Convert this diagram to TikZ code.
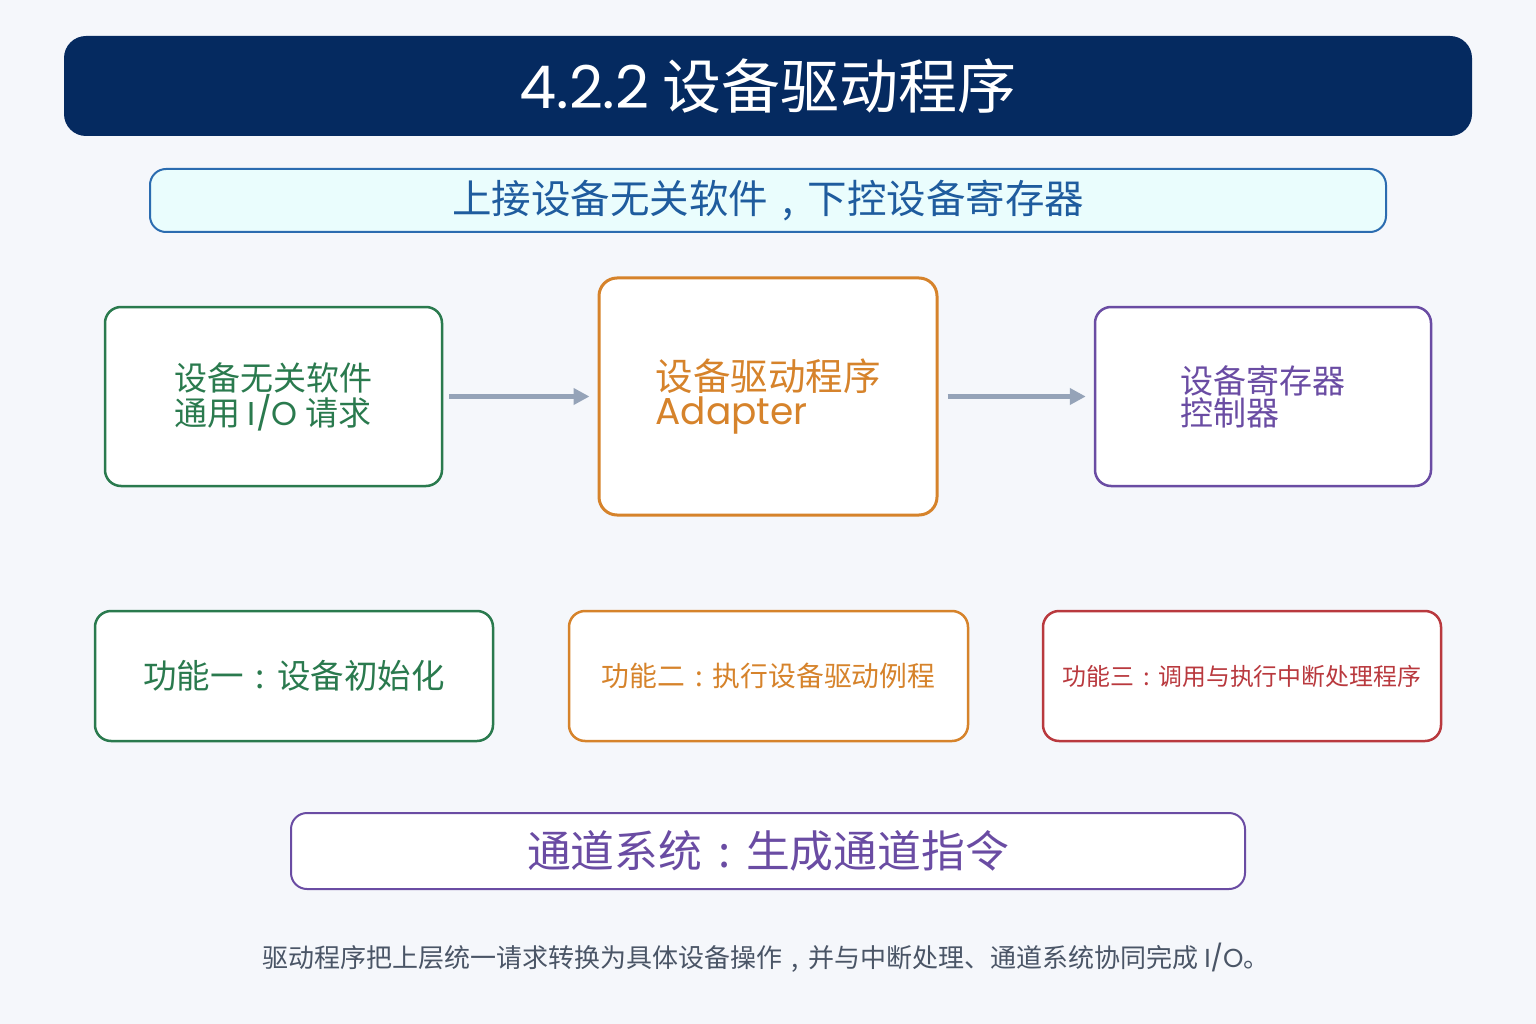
\documentclass[tikz,border=0pt]{standalone}
\usepackage{fontspec}
\setmainfont{Noto Sans CJK SC}
\newfontfamily\lat{Poppins}
\usetikzlibrary{arrows.meta}
\definecolor{bgc}{HTML}{F5F7FB}
\definecolor{navy}{HTML}{052A60}
\definecolor{subfill}{HTML}{EAFDFD}
\definecolor{subline}{HTML}{2B6CB0}
\definecolor{subtext}{HTML}{1F5C9E}
\definecolor{cgreen}{HTML}{2A7A4E}
\definecolor{corange}{HTML}{D6832B}
\definecolor{cpurple}{HTML}{6A4CA3}
\definecolor{cred}{HTML}{B9393E}
\definecolor{carrow}{HTML}{95A3B8}
\definecolor{cfoot}{HTML}{4A5566}
\tikzset{
  box/.style={draw, fill=white, rounded corners=16pt, line width=2.5pt, inner sep=0pt, align=left},
  flow/.style={draw=carrow, line width=5pt, -{Triangle[length=16pt,width=16pt]}},
}
\newcommand{\fs}[2]{\fontsize{#1}{#2}\selectfont}
\newcommand{\mycolon}{\makebox[1em][c]{:}}
\newcommand{\mycomma}{\makebox[1em][c]{,}}
\begin{document}
\begin{tikzpicture}[x=1pt,y=-1pt]
\useasboundingbox[fill=bgc] (0,0) rectangle (1536,1024);
% title
\node[fill=navy, rounded corners=22pt, minimum width=1408pt, minimum height=100pt, inner sep=0pt, text=white, font=\fs{59}{60}] (title) at (768,86) {{\lat 4.2.2} 设备驱动程序};
% subtitle
\node[draw=subline, fill=subfill, line width=2pt, rounded corners=16pt, minimum width=1236pt, minimum height=63pt, inner sep=0pt, text=subtext, font=\fs{39.5}{40}] (sub) at (768,200.5) {上接设备无关软件\mycomma 下控设备寄存器};
% top row
\node[box, draw=cgreen, text=cgreen, minimum width=337pt, minimum height=179pt, font=\fs{33}{32}] (A) at (273.5,396.5) {设备无关软件\\通用 {\lat I/O} 请求};
\node[box, draw=corange, text=corange, line width=3pt, minimum width=338pt, minimum height=237pt, rounded corners=18pt, font=\fs{37.5}{34}] (B) at (768,396.5) {设备驱动程序\\{\lat Adapter}};
\node[box, draw=cpurple, text=cpurple, minimum width=336pt, minimum height=179pt, font=\fs{33}{32}] (C) at (1263,396.5) {设备寄存器\\控制器};
\draw[flow, shorten <=6pt, shorten >=8pt] (A.east) -- (B.west);
\draw[flow, shorten <=9pt, shorten >=8pt] (B.east) -- (C.west);
% function row
\node[box, draw=cgreen, text=cgreen, minimum width=398pt, minimum height=130pt, font=\fs{33.5}{34}] (F1) at (294,676) {功能一\mycolon 设备初始化};
\node[box, draw=corange, text=corange, minimum width=399pt, minimum height=130pt, font=\fs{27.8}{30}] (F2) at (768.5,676) {功能二\mycolon 执行设备驱动例程};
\node[box, draw=cred, text=cred, minimum width=398pt, minimum height=130pt, font=\fs{23.9}{26}] (F3) at (1242,676) {功能三\mycolon 调用与执行中断处理程序};
% channel
\node[box, draw=cpurple, text=cpurple, line width=2pt, minimum width=954pt, minimum height=76pt, font=\fs{43.8}{45}] (CH) at (768,851) {通道系统\mycolon 生成通道指令};
% footer
\node[text=cfoot, inner sep=0pt, font=\fs{26}{27}] (foot) at (766,958) {驱动程序把上层统一请求转换为具体设备操作\mycomma 并与中断处理、通道系统协同完成 {\lat I/O}。};
\end{tikzpicture}
\end{document}
